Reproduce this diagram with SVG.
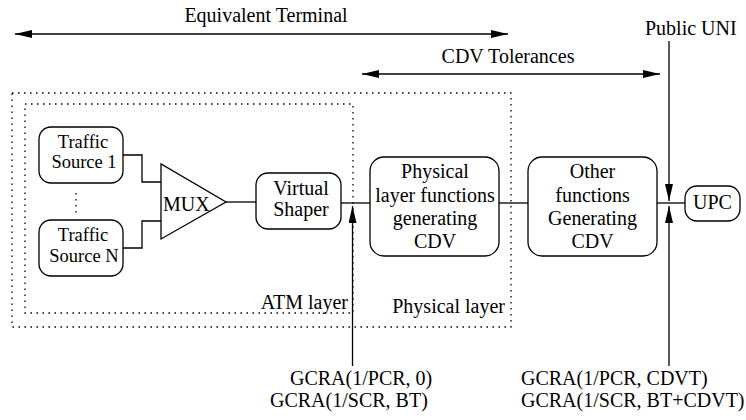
<svg xmlns="http://www.w3.org/2000/svg" width="746" height="420" viewBox="0 0 746 420" font-family="'Liberation Serif', 'DejaVu Serif', serif" font-size="20">
  <style>
    text { font-family: 'Liberation Serif', 'DejaVu Serif', serif; font-size: 20px; fill: #000; }
    .sm { font-size: 18.5px; }
    .box { fill: #fff; stroke: #000; stroke-width: 1.3; }
    .wire { fill: none; stroke: #000; stroke-width: 1.3; }
    .arrow { fill: none; stroke: #000; stroke-width: 1.3; marker-end: url(#head); }
    .dual { fill: none; stroke: #000; stroke-width: 1.3; marker-start: url(#head); marker-end: url(#head); }
    .dots { fill: none; stroke: #000; stroke-width: 1.3; stroke-dasharray: 1.5 4.5; }
    .c { text-anchor: middle; }
  </style>
  <defs>
    <marker id="head" markerUnits="userSpaceOnUse" markerWidth="18" markerHeight="9" refX="17" refY="4" orient="auto-start-reverse">
      <path d="M0,0 L17,4 L0,8 z" fill="#000"/>
    </marker>
  </defs>

  <rect width="746" height="420" fill="#fff"/>

  <!-- layer boundaries -->
  <g id="layers">
    <rect class="dots" x="12" y="93" width="499" height="234"/>
    <rect class="dots" x="25" y="104" width="328" height="209"/>
    <text x="348" y="309" text-anchor="end">ATM layer</text>
    <text x="505" y="313" text-anchor="end">Physical layer</text>
  </g>

  <!-- spans and reference points -->
  <g id="spans">
    <line class="dual" x1="15" y1="34" x2="508" y2="34"/>
    <text class="c" x="266" y="22">Equivalent Terminal</text>
    <line class="dual" x1="362" y1="74" x2="660" y2="74"/>
    <text class="c" x="508" y="63">CDV Tolerances</text>
    <text x="645" y="35">Public UNI</text>
  </g>

  <!-- connectors -->
  <g id="connectors">
    <polyline class="wire" points="123,155 142,155 142,182 161,182"/>
    <polyline class="wire" points="123,248 142,248 142,221 161,221"/>
    <line class="dots" x1="76" y1="193" x2="76" y2="217"/>
    <line class="wire" x1="226" y1="202" x2="256" y2="202"/>
    <line class="wire" x1="341" y1="203" x2="370" y2="203"/>
    <line class="wire" x1="499" y1="203" x2="528" y2="203"/>
    <line class="wire" x1="657" y1="203" x2="685" y2="203"/>
    <line class="arrow" x1="352.5" y1="366" x2="352.5" y2="206"/>
    <line class="arrow" x1="669" y1="41" x2="669" y2="201"/>
    <line class="arrow" x1="669" y1="366" x2="669" y2="206"/>
  </g>

  <g id="source1">
    <rect class="box" x="39" y="127" width="84" height="56" rx="12"/>
    <text class="c sm" x="83" y="147.5">Traffic</text>
    <text class="c sm" x="84" y="168">Source 1</text>
  </g>

  <g id="sourceN">
    <rect class="box" x="39" y="220" width="84" height="56" rx="12"/>
    <text class="c sm" x="83" y="241">Traffic</text>
    <text class="c sm" x="84" y="261.5">Source N</text>
  </g>

  <g id="mux">
    <polygon class="box" points="161,164 161,239 226,202"/>
    <text x="163" y="211">MUX</text>
  </g>

  <g id="shaper">
    <rect class="box" x="256" y="173" width="85" height="56" rx="12"/>
    <text class="c" x="301" y="195">Virtual</text>
    <text class="c" x="301" y="216">Shaper</text>
  </g>

  <g id="phy">
    <rect class="box" x="370" y="157" width="129" height="99" rx="14"/>
    <text class="c" x="435" y="178">Physical</text>
    <text class="c" x="435" y="201.5">layer functions</text>
    <text class="c" x="435" y="225">generating</text>
    <text class="c" x="435" y="248">CDV</text>
  </g>

  <g id="other">
    <rect class="box" x="528" y="157" width="129" height="99" rx="14"/>
    <text class="c" x="592.5" y="178">Other</text>
    <text class="c" x="592.5" y="201.5">functions</text>
    <text class="c" x="592.5" y="225">Generating</text>
    <text class="c" x="592.5" y="248">CDV</text>
  </g>

  <g id="upc">
    <rect class="box" x="685" y="186" width="55" height="35" rx="12"/>
    <text class="c" x="712.5" y="209">UPC</text>
  </g>

  <!-- conformance definitions -->
  <g id="gcra">
    <text x="290" y="385">GCRA(1/PCR, 0)</text>
    <text x="270" y="407">GCRA(1/SCR, BT)</text>
    <text x="521" y="385">GCRA(1/PCR, CDVT)</text>
    <text x="521" y="407">GCRA(1/SCR, BT+CDVT)</text>
  </g>
</svg>
